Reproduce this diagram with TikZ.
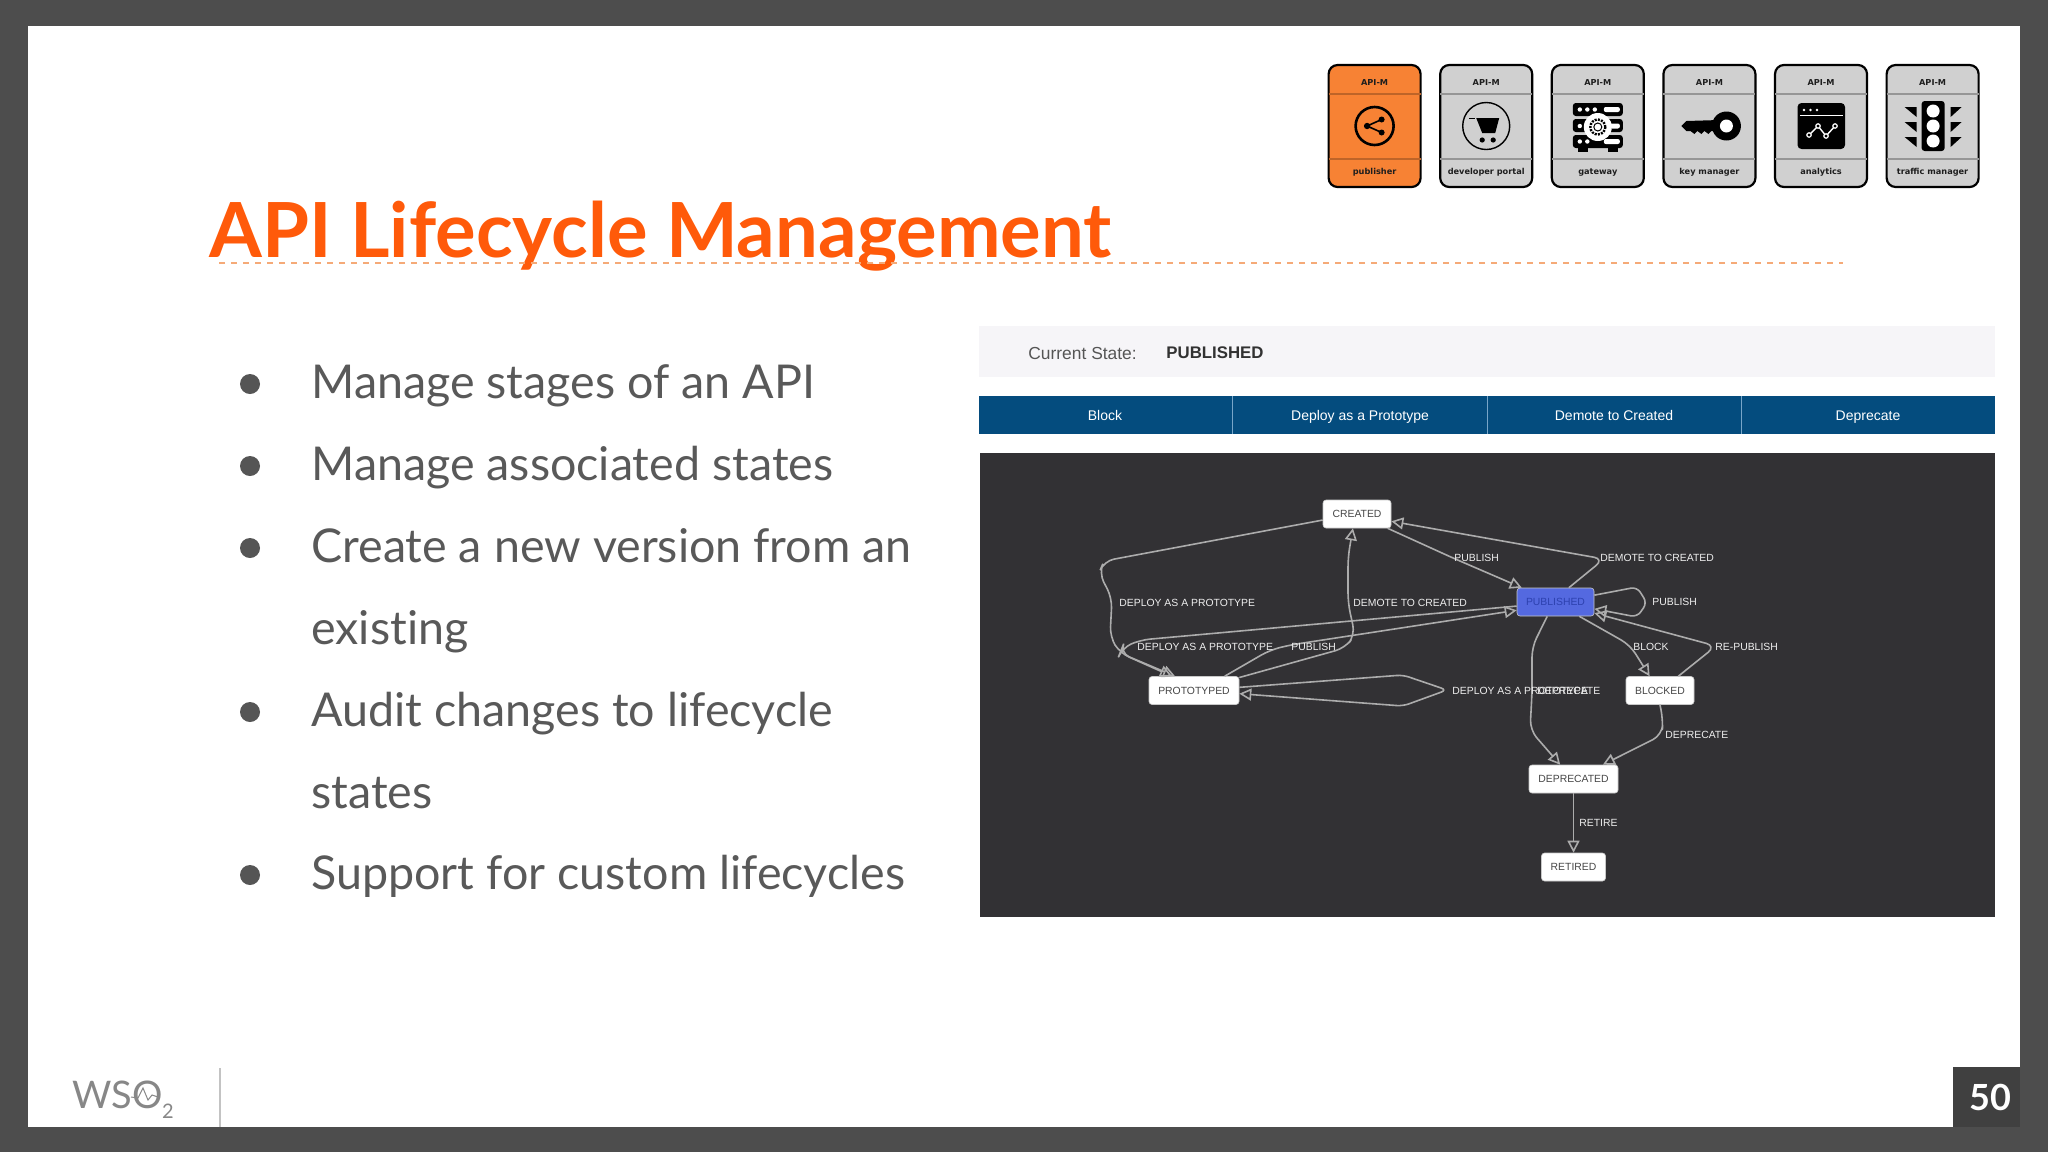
\documentclass[tikz,border=0pt]{standalone}
\usepackage{fontspec}
\setmainfont[Ligatures=NoCommon]{Lato}
\newfontfamily\uifont{Liberation Sans}
\newfontfamily\cardfont{DejaVu Sans}
\usetikzlibrary{arrows.meta}
\tikzset{
  slidetext/.style={font=\fontsize{23.3}{28}\selectfont, text={rgb,255:red,89;green,89;blue,89}, anchor=base west, inner sep=0},
  bulletdot/.style={fill={rgb,255:red,85;green,85;blue,85}},
  statebox/.style={font=\uifont\fontsize{5.2}{6}\selectfont, text={rgb,255:red,70;green,70;blue,70}, fill=white, draw={rgb,255:red,200;green,200;blue,200}, line width=0.3pt, rounded corners=1.5pt, inner sep=0, minimum height=14pt},
  edgeline/.style={draw={rgb,255:red,172;green,172;blue,172}, line width=0.8pt, rounded corners=5pt, -{Triangle[open,length=6pt,width=6pt]}},
  selfline/.style={edgeline, rounded corners=3pt},
  edgelabel/.style={font=\uifont\fontsize{5.2}{6}\selectfont, text={rgb,255:red,238;green,238;blue,238}, inner sep=0},
  cardbox/.style={draw=black, line width=1.1pt, rounded corners=4.5pt, fill={rgb,255:red,208;green,208;blue,208}},
  cardrule/.style={draw={rgb,255:red,150;green,150;blue,150}, line width=0.6pt},
  cardtext/.style={font=\cardfont\bfseries\fontsize{4.1}{5}\selectfont, text={rgb,255:red,30;green,30;blue,30}, inner sep=0},
  barlabel/.style={font=\uifont\fontsize{7}{8}\selectfont, text=white, inner sep=0, anchor=base},
  bardivider/.style={draw={rgb,255:red,120;green,165;blue,200}, line width=0.3pt},
}
\begin{document}
\begin{tikzpicture}[x=0.5pt,y=-0.5pt]%
\useasboundingbox (0,0) rectangle (2048,1152);%
\fill[fill={rgb,255:red,77;green,77;blue,77}] (0,0) rectangle (2048,1152);%
\fill[fill=white] (28,26) rectangle (2020,1127);%
\fill[fill={rgb,255:red,64;green,64;blue,64}] (1953,1067) rectangle (2020,1127);%
\node (pagenumber) [font=\fontsize{18}{22}\selectfont\bfseries, text=white, inner sep=0] at (1990,1097) {50};%
% title
\node (slidetitle) [font=\fontsize{38}{44}\selectfont\bfseries, text={rgb,255:red,255;green,90;blue,10}, anchor=base west, inner sep=0] at (209,257) {API Lifecycle Management};%
\draw[draw={rgb,255:red,245;green,170;blue,120}, line width=0.6pt, dashed] (219,263) -- (1843,263);%
% bullets
\fill[bulletdot] (250,384) circle (10);%
\node (itemstages) [slidetext] at (311,398) {Manage stages of an API};%
\fill[bulletdot] (250,466) circle (10);%
\node (itemstates) [slidetext] at (311,480) {Manage associated states};%
\fill[bulletdot] (250,548) circle (10);%
\node (itemversion) [slidetext] at (311,562) {Create a new version from an};%
\node (itemversionb) [slidetext] at (311,644) {existing};%
\fill[bulletdot] (250,712) circle (10);%
\node (itemaudit) [slidetext] at (311,726) {Audit changes to lifecycle};%
\node (itemauditb) [slidetext] at (311,808) {states};%
\fill[bulletdot] (250,875) circle (10);%
\node (itemcustom) [slidetext] at (311,889) {Support for custom lifecycles};%
% footer
\node (logoword) [font=\fontsize{19}{22}\selectfont, text={rgb,255:red,135;green,135;blue,135}, anchor=base west, inner sep=0] at (72,1108) {WSO};%
\node (logotwo) [font=\fontsize{10}{12}\selectfont, text={rgb,255:red,135;green,135;blue,135}, inner sep=0] at (168,1111) {2};%
\draw[draw={rgb,255:red,135;green,135;blue,135}, line width=0.5pt] (131,1097) -- (138,1098) -- (143,1088) -- (148,1100) -- (152,1095) -- (158,1097);%
\draw[draw={rgb,255:red,195;green,195;blue,195}, line width=0.8pt] (220,1068) -- (220,1127);%
% cards
\draw[cardbox, fill={rgb,255:red,247;green,130;blue,52}] (1328.6,65) rectangle (1420.6,187);%
\draw[cardrule, draw={rgb,255:red,190;green,100;blue,40}] (1328.6,94) -- (1420.6,94);%
\draw[cardrule, draw={rgb,255:red,190;green,100;blue,40}] (1328.6,159) -- (1420.6,159);%
\node (cardpubtop) [cardtext] at (1374.6,83) {API-M};%
\node (cardpubname) [cardtext] at (1374.6,172) {publisher};%
\begin{scope}[shift={(1374.6,126)}]%
\draw[line width=1.3pt] (0,0) circle (19);%
\draw[line width=0.8pt] (7,-6.5) -- (-7.5,0) -- (7,6.5);%
\fill (-7.5,0) circle (3.2);%
\fill (7,-6.5) circle (3);%
\fill (7,6.5) circle (3);%
\end{scope}%
\draw[cardbox] (1440.2,65) rectangle (1532.2,187);%
\draw[cardrule] (1440.2,94) -- (1532.2,94);%
\draw[cardrule] (1440.2,159) -- (1532.2,159);%
\node (carddevtop) [cardtext] at (1486.2,83) {API-M};%
\node (carddevname) [cardtext] at (1486.2,172) {developer portal};%
\begin{scope}[shift={(1486.2,126)}]%
\draw[line width=0.7pt] (0,0) circle (23.5);%
\fill (-10,-8) -- (13,-8) -- (9,7) -- (-4,7) -- cycle;%
\draw[line width=0.7pt] (-17,-7.5) -- (-11,-7.5);%
\fill (-4,14) circle (2.6);%
\fill (7,14) circle (2.6);%
\end{scope}%
\draw[cardbox] (1551.8,65) rectangle (1643.8,187);%
\draw[cardrule] (1551.8,94) -- (1643.8,94);%
\draw[cardrule] (1551.8,159) -- (1643.8,159);%
\node (cardgwtop) [cardtext] at (1597.8,83) {API-M};%
\node (cardgwname) [cardtext] at (1597.8,172) {gateway};%
\begin{scope}[shift={(1597.8,126)}]%
\fill[rounded corners=1.5pt] (-25,-23) rectangle (25,-10);%
\fill[rounded corners=1.5pt] (-25,-7) rectangle (25,6);%
\fill[rounded corners=1.5pt] (-25,9) rectangle (25,22);%
\fill (-20,22) rectangle (-10,26);%
\fill (10,22) rectangle (20,26);%
\fill[white] (-18,-16.5) circle (2.2);%
\fill[white] (-10.5,-16.5) circle (2.2);%
\fill[white] (-3,-16.5) circle (2.2);%
\fill[white, rounded corners=1pt] (6,-19) rectangle (22,-14);%
\fill[white] (-18,0) circle (2.2);%
\fill[white, rounded corners=1pt] (12,-2.5) rectangle (22,2.5);%
\fill[white] (-18,15.5) circle (2.2);%
\fill[white] (-10.5,15.5) circle (2.2);%
\fill[white, rounded corners=1pt] (6,13) rectangle (22,18);%
\fill[white] (0,1) circle (14);%
\draw[line width=1.2pt, dash pattern=on 1pt off 0.6pt] (0,1) circle (7.5);%
\draw[line width=0.5pt] (0,1) circle (4);%
\end{scope}%
\draw[cardbox] (1663.4,65) rectangle (1755.4,187);%
\draw[cardrule] (1663.4,94) -- (1755.4,94);%
\draw[cardrule] (1663.4,159) -- (1755.4,159);%
\node (cardkeytop) [cardtext] at (1709.4,83) {API-M};%
\node (cardkeyname) [cardtext] at (1709.4,172) {key manager};%
\begin{scope}[shift={(1709.4,126)}]%
\fill (-28,0) -- (-23,-5) -- (10,-6) -- (10,6) -- (2,5) -- (-1,8) -- (-5,5) -- (-8,8) -- (-12,5) -- (-15,8) -- (-19,5) -- (-23,5) -- cycle;%
\fill (17,0) circle (14.5);%
\fill[white] (17,0) circle (6.5);%
\end{scope}%
\draw[cardbox] (1775,65) rectangle (1867,187);%
\draw[cardrule] (1775,94) -- (1867,94);%
\draw[cardrule] (1775,159) -- (1867,159);%
\node (cardanatop) [cardtext] at (1821,83) {API-M};%
\node (cardananame) [cardtext] at (1821,172) {analytics};%
\begin{scope}[shift={(1821,126)}]%
\fill[rounded corners=2pt] (-23.5,-23) rectangle (24,23);%
\draw[draw=white, line width=0.4pt] (-21,-11) -- (21.5,-11);%
\fill[white] (-17,-16) circle (1.4);%
\fill[white] (-10.5,-16) circle (1.4);%
\fill[white] (-4,-16) circle (1.4);%
\draw[draw=white, line width=0.7pt] (-12,9) -- (-3,0) -- (5,10) -- (14,0);%
\draw[draw=white, line width=0.6pt, fill=black] (-12,9) circle (2.2);%
\draw[draw=white, line width=0.6pt, fill=black] (-3,0) circle (2.2);%
\draw[draw=white, line width=0.6pt, fill=black] (5,10) circle (2.2);%
\draw[draw=white, line width=0.6pt, fill=black] (14,0) circle (2.2);%
\end{scope}%
\draw[cardbox] (1886.6,65) rectangle (1978.6,187);%
\draw[cardrule] (1886.6,94) -- (1978.6,94);%
\draw[cardrule] (1886.6,159) -- (1978.6,159);%
\node (cardtraftop) [cardtext] at (1932.6,83) {API-M};%
\node (cardtrafname) [cardtext] at (1932.6,172) {traffic manager};%
\begin{scope}[shift={(1932.6,126)}]%
\fill[rounded corners=1.5pt] (-11,-25) rectangle (12,25);%
\fill[white] (0.5,-15) circle (6.5);%
\fill[white] (0.5,0) circle (6.5);%
\fill[white] (0.5,15) circle (6.5);%
\fill (-28,-19) -- (-16,-19) -- (-16,-9) -- cycle;%
\fill (-28,-4) -- (-16,-4) -- (-16,6) -- cycle;%
\fill (-28,11) -- (-16,11) -- (-16,21) -- cycle;%
\fill (29,-19) -- (18,-19) -- (18,-9) -- cycle;%
\fill (29,-4) -- (18,-4) -- (18,6) -- cycle;%
\fill (29,11) -- (18,11) -- (18,21) -- cycle;%
\end{scope}%
% current state panel
\fill[fill={rgb,255:red,246;green,245;blue,248}] (979,326) rectangle (1995,377);%
\node (statecaption) [font=\uifont\fontsize{8.7}{10}\selectfont, text={rgb,255:red,85;green,85;blue,85}, anchor=west, inner sep=0] at (1028,353) {Current State:};%
\node (statevalue) [font=\uifont\bfseries\fontsize{8.4}{10}\selectfont, text={rgb,255:red,50;green,50;blue,50}, anchor=west, inner sep=0] at (1166,353) {PUBLISHED};%
% action bar
\fill[fill={rgb,255:red,4;green,76;blue,126}] (979,396) rectangle (1995,434);%
\draw[bardivider] (1232.5,396) -- (1232.5,434);%
\draw[bardivider] (1487,396) -- (1487,434);%
\draw[bardivider] (1741,396) -- (1741,434);%
\node (actionblock) [barlabel] at (1105,420) {Block};%
\node (actionproto) [barlabel] at (1360,420) {Deploy as a Prototype};%
\node (actiondemote) [barlabel] at (1614,420) {Demote to Created};%
\node (actiondeprecate) [barlabel] at (1868,420) {Deprecate};%
% graph panel
\fill[fill={rgb,255:red,50;green,49;blue,52}] (980,453) rectangle (1995,917);%
\node (created) [statebox, minimum width=34pt] at (1357,514) {CREATED};%
\node (prototyped) [statebox, minimum width=45pt] at (1194,690.5) {PROTOTYPED};%
\node (published) [statebox, minimum width=38.5pt, fill={rgb,255:red,84;green,105;blue,224}, text={rgb,255:red,45;green,65;blue,175}] at (1555.5,602) {PUBLISHED};%
\node (blocked) [statebox, minimum width=34pt] at (1660,690.5) {BLOCKED};%
\node (deprecated) [statebox, minimum width=44.5pt] at (1573.5,779) {DEPRECATED};%
\node (retired) [statebox, minimum width=32pt] at (1573.5,867) {RETIRED};%
\draw[edgeline] (created.190) -- (1104,561) -- (1099,573) -- (1112,598) -- (1110,637) -- (1120,653) -- (prototyped.147);%
\draw[edgeline] (published.186) -- (1140,640) -- (1122,648) -- (1120,653) -- (prototyped.143);%
\draw[edgeline] (prototyped.25) -- (1270,650) -- (1290,645) -- (published.192);%
\draw[edgeline] (prototyped.16) -- (1345,648) -- (1355,635) -- (1348,603) -- (1348,557) -- (created.254);%
\draw[edgeline] (created.335) -- (1453,558) -- (published.157);%
\draw[edgeline] (published.47) -- (1604,559) -- (created.348);%
\draw[selfline] (published.10) -- (1637,587) -- (1647,603) -- (1637,617) -- (published.350);%
\draw[edgeline] (published.329) -- (1630,645) -- (blocked.126);%
\draw[edgeline] (blocked.38) -- (1716,646) -- (published.344);%
\draw[edgeline] (published.240) -- (1532,647) -- (1532,693) -- (1530,730) -- (deprecated.133);%
\draw[edgeline] (blocked.south) -- (1663,720) -- (1662,735) -- (deprecated.26);%
\draw[edgeline] (deprecated.south) -- (retired.north);%
\draw[selfline] (prototyped.4) -- (1403,675) -- (1447,690) -- (1403,706) -- (prototyped.356);%
\node (lbldeployleft) [edgelabel, anchor=west] at (1119,603) {DEPLOY AS A PROTOTYPE};%
\node (lbldemoteleft) [edgelabel, anchor=west] at (1353,603) {DEMOTE TO CREATED};%
\node (lblpublishtop) [edgelabel, anchor=west] at (1454,558) {PUBLISH};%
\node (lbldemoteright) [edgelabel, anchor=west] at (1600,558) {DEMOTE TO CREATED};%
\node (lblpublishself) [edgelabel, anchor=west] at (1652,602) {PUBLISH};%
\node (lbldeploylow) [edgelabel, anchor=west] at (1137,647) {DEPLOY AS A PROTOTYPE};%
\node (lblpublishlow) [edgelabel, anchor=west] at (1291,647) {PUBLISH};%
\node (lblblock) [edgelabel, anchor=west] at (1633,647) {BLOCK};%
\node (lblrepublish) [edgelabel, anchor=west] at (1715,647) {RE-PUBLISH};%
\node (lbldeployself) [edgelabel, anchor=west] at (1452,691) {DEPLOY AS A PROTOTYPE};%
\node (lbldeprecatemid) [edgelabel, anchor=west] at (1537,691) {DEPRECATE};%
\node (lbldeprecate) [edgelabel, anchor=west] at (1665,735) {DEPRECATE};%
\node (lblretire) [edgelabel, anchor=west] at (1579,823) {RETIRE};%
\end{tikzpicture}
\end{document}
